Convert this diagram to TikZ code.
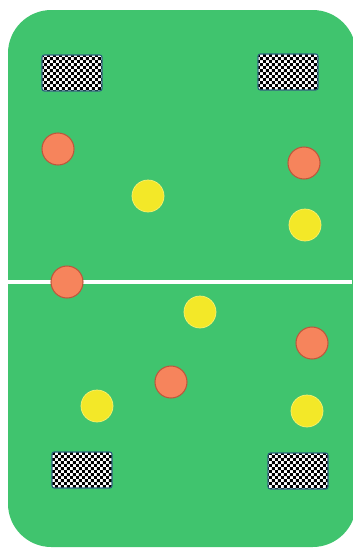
\documentclass[tikz,border=0pt]{standalone}
\usetikzlibrary{patterns}
\definecolor{rasen}{RGB}{64,196,110}
\definecolor{orangefill}{RGB}{246,132,92}
\definecolor{orangerand}{RGB}{190,86,60}
\definecolor{gelbfill}{RGB}{243,232,40}
\definecolor{gelbrand}{RGB}{250,240,110}
\definecolor{torrand}{RGB}{44,100,124}
% feines Schachbrett fuer die Tore
\pgfdeclarepatternformonly{feinschach}{\pgfpointorigin}{\pgfqpoint{5pt}{5pt}}{\pgfqpoint{5pt}{5pt}}{
  \pgfpathrectangle{\pgfpointorigin}{\pgfqpoint{2.5pt}{2.5pt}}
  \pgfpathrectangle{\pgfqpoint{2.5pt}{2.5pt}}{\pgfqpoint{2.5pt}{2.5pt}}
  \pgfusepath{fill}}
\tikzset{
  tor/.style={draw=torrand, line width=1pt, rounded corners=2pt,
    preaction={fill=white}, pattern=feinschach, pattern color=black,
    minimum width=1.8cm, minimum height=1.08cm, inner sep=0pt},
  rot/.style={circle, draw=orangerand, line width=0.9pt, fill=orangefill,
    minimum size=0.96cm, inner sep=0pt},
  gelb/.style={circle, draw=gelbrand, line width=0.6pt, fill=gelbfill,
    minimum size=0.96cm, inner sep=0pt}
}
\begin{document}
\begin{tikzpicture}[x=0.03cm, y=-0.03cm]
	    \useasboundingbox (0, 0) rectangle (352, 549);
	    \fill[white] (0, 0) rectangle (352, 549);
	
	    % Spielfeld und Mittellinie
	    \fill[rasen, rounded corners=1.3cm] (8, 10) rectangle (356, 547);
	    \draw[white, line width=0.1cm] (8, 282) -- (352, 282);
	
	    % Tore
	    \node[tor] (g1) at (72, 73) {};
	    \node[tor] (g2) at (288, 72) {};
	    \node[tor] (g3) at (82, 470) {};
	    \node[tor] (g4) at (298, 471) {};
	
	    % Spieler rot
	    \node[rot] (r1) at (58, 149) {};
	    \node[rot] (r2) at (304, 163) {};
	    \node[rot] (r3) at (67, 282) {};
	    \node[rot] (r4) at (312, 343) {};
	    \node[rot] (r5) at (171, 382) {};
	
	    % Spieler gelb
	    \node[gelb] (y1) at (148, 196) {};
	    \node[gelb] (y2) at (305, 225) {};
	    \node[gelb] (y3) at (200, 312) {};
	    \node[gelb] (y4) at (97, 406) {};
	    \node[gelb] (y5) at (307, 411) {};
\end{tikzpicture}
\end{document}
